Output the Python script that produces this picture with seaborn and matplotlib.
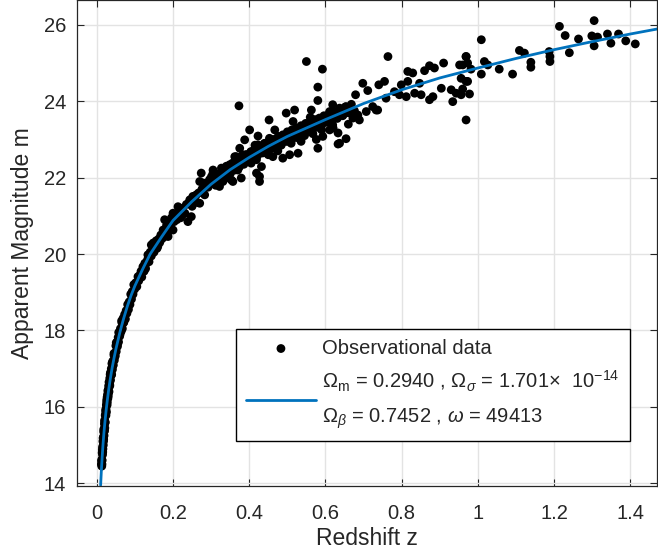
import numpy as np
import matplotlib
matplotlib.use("Agg")
import matplotlib.pyplot as plt
import seaborn as sns

# observational data (grouped by redshift range)
z_a = [0.012,0.013,0.013,0.014,0.014,0.015,0.015,0.016,0.016,0.017,0.017,0.018,0.018,0.019,0.019,0.020,0.020,0.021,0.021,0.022,
       0.022,0.023,0.024,0.024,0.025,0.025,0.026,0.027,0.027,0.028,0.029,0.030,0.030,0.031,0.032,0.033,0.034,0.034,0.035,0.036,
       0.037,0.038,0.039,0.040,0.041,0.042,0.043,0.045,0.046,0.047,0.048,0.050,0.051,0.053,0.054,0.056,0.057,0.059,0.060,0.062,
       0.064,0.066,0.067,0.069,0.071,0.073,0.075,0.077,0.079,0.081,0.083,0.085,0.087,0.089,0.091,0.093,0.095,0.097,0.099]
m_a = [14.50,14.62,14.45,14.80,14.60,14.95,14.75,15.10,14.90,15.20,15.00,15.35,15.15,15.40,15.25,15.55,15.38,15.62,15.45,15.78,
       15.60,15.80,15.95,15.78,16.05,15.88,16.12,16.25,16.05,16.32,16.22,16.45,16.28,16.55,16.40,16.62,16.75,16.55,16.85,16.70,
       16.90,17.00,16.85,17.12,16.98,17.20,17.10,17.35,17.22,17.40,17.32,17.60,17.45,17.70,17.58,17.82,17.70,17.95,17.85,18.05,
       17.98,18.20,18.05,18.32,18.22,18.42,18.30,18.52,18.45,18.68,18.55,18.75,18.68,18.95,18.82,19.02,18.95,19.20,19.08]

z_g = [0.0125,0.0135,0.0145,0.0155,0.0165,0.0175,0.0185,0.0195,0.0205,0.0215,0.0230,0.0245,0.0260,0.0275,0.0290,
       0.0305,0.0320,0.0340,0.0360,0.0380,0.0400,0.0425,0.0450,0.0480,0.0510,0.0540,0.0575,0.0610,0.0650,0.0700]
m_g = [14.58,14.50,14.88,14.82,15.18,15.10,15.42,15.36,15.65,15.58,15.90,15.85,16.18,16.12,16.42,
       16.36,16.65,16.58,16.90,16.83,17.15,17.08,17.40,17.35,17.68,17.62,17.95,17.90,18.25,18.20]

z_b = [0.102,0.105,0.108,0.110,0.113,0.116,0.118,0.121,0.124,0.126,0.128,0.130,0.133,0.134,0.137,0.140,0.143,0.143,0.146,0.148,
       0.150,0.153,0.156,0.158,0.160,0.163,0.165,0.168,0.171,0.174,0.176,0.178,0.180,0.183,0.185,0.187,0.190,0.193,0.196,0.200,
       0.200,0.203,0.207,0.210,0.213,0.216,0.220,0.224,0.228,0.231,0.235,0.239,0.242,0.244,0.248,0.250,0.252,0.255,0.257,0.261,
       0.264,0.267,0.270,0.270,0.274,0.276,0.279,0.279,0.283,0.288,0.292,0.296]
m_b = [19.25,19.15,19.41,19.30,19.45,19.55,19.40,19.67,19.55,19.76,19.62,19.76,19.85,19.98,19.80,20.05,20.24,19.95,20.10,20.29,
       20.05,20.20,20.35,20.15,20.20,20.40,20.30,20.50,20.40,20.63,20.45,20.90,20.60,20.75,20.55,20.46,20.80,20.70,20.95,20.63,
       21.07,20.85,21.00,20.90,21.24,21.10,20.95,21.20,21.05,21.07,21.30,20.85,21.35,21.42,20.98,21.25,21.51,21.40,21.51,21.55,
       21.35,21.60,21.33,21.90,22.12,21.70,21.68,21.86,21.55,21.86,21.75,21.95]

z_c = [0.301,0.305,0.305,0.310,0.315,0.322,0.327,0.331,0.335,0.340,0.345,0.349,0.353,0.357,0.362,0.366,0.370,0.373,0.375,0.379,
       0.379,0.383,0.388,0.392,0.396,0.401,0.405,0.410,0.415,0.419,0.419,0.423,0.423,0.427,0.427,0.432,0.436,0.440,0.445,0.450,
       0.452,0.453,0.458,0.462,0.467,0.470,0.475,0.480,0.484,0.488,0.492,0.497,0.500,0.506,0.506,0.510,0.515,0.519,0.524,0.528,
       0.532,0.536,0.540,0.545,0.550,0.553,0.558,0.560,0.563,0.567,0.572,0.576,0.580,0.580,0.580,0.585,0.590,0.592,0.593,0.593,
       0.597]
m_c = [22.03,22.20,22.12,21.85,22.05,21.77,22.25,21.90,22.10,22.30,22.00,22.34,21.94,21.90,22.55,22.55,22.20,23.88,22.77,21.99,
       22.38,22.60,22.99,22.60,22.45,23.25,22.38,22.70,22.85,22.47,22.12,23.09,22.86,22.03,21.90,22.29,22.65,22.90,22.77,22.60,
       23.51,23.03,22.85,22.55,23.25,22.95,22.70,23.03,22.85,22.51,23.10,23.69,22.95,23.08,22.60,22.90,23.47,23.77,23.05,22.64,
       23.17,22.95,23.30,23.10,25.04,23.40,23.21,23.58,23.77,23.15,23.35,23.00,22.77,24.37,24.02,23.45,23.25,24.84,23.08,23.43,
       23.60]

z_f = [0.305,0.312,0.318,0.325,0.332,0.338,0.344,0.351,0.356,0.362,0.368,0.374,0.380,0.386,0.392,0.398,0.404,0.410,0.416,0.422,
       0.428,0.434,0.440,0.446,0.452,0.458,0.464,0.470,0.476,0.482,0.488,0.494,0.500,0.506,0.512,0.518,0.524,0.530,0.536,0.542,
       0.548,0.554,0.560,0.566,0.572,0.578,0.584,0.590,0.596,0.603,0.610,0.617,0.624,0.631,0.638,0.645,0.652,0.660,0.668,0.676]
m_f = [21.95,21.80,22.10,21.95,22.20,22.02,22.28,22.12,22.38,22.20,22.45,22.28,22.52,22.35,22.60,22.42,22.68,22.50,22.75,22.58,
       22.82,22.65,22.88,22.70,22.95,22.76,23.00,22.82,23.08,22.88,23.12,22.95,23.20,23.00,23.25,23.06,23.30,23.12,23.36,23.18,
       23.42,23.22,23.46,23.28,23.52,23.32,23.56,23.38,23.62,23.45,23.68,23.50,23.72,23.55,23.80,23.62,23.85,23.70,23.92,23.75]

z_d = [0.764,0.910,0.952,0.969,0.873,0.886,0.860,0.816,0.829,0.755,0.740,0.698,0.711,0.679,0.799,0.816,0.847,0.781,0.794,0.812,
       0.834,0.851,0.873,0.882,0.904,0.930,0.943,0.934,0.956,0.969,0.969,0.759,0.724,0.737,0.707,0.685,0.668,0.654,0.637,0.619,
       0.611,0.628,0.646,0.602,0.619,0.672,0.689,0.633,0.654,0.611,0.637,0.633,0.733,0.620,0.605,0.660]
m_d = [25.17,25.00,24.95,25.17,24.93,24.87,24.80,24.78,24.74,24.52,24.43,24.47,24.28,24.17,24.43,24.52,24.47,24.25,24.17,24.12,
       24.21,24.17,24.04,24.12,24.34,24.30,24.21,23.99,24.17,24.52,23.51,24.08,23.86,23.77,23.73,23.64,23.77,23.86,23.82,23.91,
       23.73,23.64,23.64,23.51,23.38,23.56,23.51,23.17,23.02,23.25,22.90,22.88,23.77,23.30,23.60,23.40]

z_e = [1.214,1.305,1.229,1.264,1.299,1.314,1.305,1.340,1.349,1.369,1.388,1.413,1.240,1.109,1.122,1.139,1.139,1.187,1.189,1.189,
       1.091,1.056,1.009,1.017,1.026,1.009,0.969,0.973,0.960,0.973,0.978,0.960,0.982,0.956]
m_e = [25.96,26.11,25.72,25.63,25.71,25.68,25.45,25.76,25.52,25.76,25.58,25.50,25.27,25.33,25.26,25.02,24.89,25.30,25.17,25.04,
       24.71,24.84,25.61,25.04,24.95,24.71,25.17,25.00,24.95,24.52,24.19,24.32,24.84,24.60]

# fitted model curve
z_fit = [0.010,0.012,0.014,0.016,0.018,0.020,0.022,0.025,0.028,0.031,0.035,0.040,0.045,0.050,0.055,0.060,0.065,0.070,0.080,0.090,
         0.100,0.120,0.140,0.170,0.200,0.250,0.300,0.350,0.400,0.450,0.500,0.600,0.700,0.800,0.900,1.000,1.100,1.200,1.300,1.400,
         1.470]
m_fit = [13.95,14.35,14.68,14.98,15.24,15.47,15.68,15.96,16.21,16.44,16.71,17.01,17.27,17.51,17.72,17.93,18.12,18.30,18.63,18.92,
         19.17,19.60,20.00,20.45,20.88,21.38,21.83,22.21,22.53,22.82,23.08,23.52,23.94,24.30,24.61,24.87,25.12,25.35,25.56,25.76,
         25.89]

z_obs = np.concatenate([z_a, z_g, z_b, z_c, z_f, z_d, z_e])
m_obs = np.concatenate([m_a, m_g, m_b, m_c, m_f, m_d, m_e])

fit_label = ("\u03a9$_{\\mathrm{m}}$ = 0.2940 , \u03a9$_{\u03c3}$ = 1.701\u00d7  10$^{-14}$\n"
             "\u03a9$_{\u03b2}$ = 0.7452 , $\u03c9$ = 49413")

sns.set_style("whitegrid")
plt.rcParams["font.family"] = ["Liberation Sans", "DejaVu Sans"]
plt.rcParams["mathtext.fontset"] = "custom"
plt.rcParams["mathtext.rm"] = "Liberation Sans"
plt.rcParams["mathtext.it"] = "Liberation Sans:italic"

txt = "#262626"
fig = plt.figure(figsize=(6.58, 5.6), dpi=100)
ax = fig.add_axes([77/658, 74/560, 580/658, 486/560])

sns.scatterplot(x=z_obs, y=m_obs, color="black", s=40, edgecolor="none", linewidth=0,
                label="Observational data", ax=ax)
sns.lineplot(x=z_fit, y=m_fit, color="#0072BD", linewidth=2, label=fit_label, ax=ax)

ax.set_xlim(-0.052, 1.47)
ax.set_ylim(13.93, 26.65)
ax.set_xticks(np.arange(0, 1.41, 0.2))
ax.set_xticklabels(["0", "0.2", "0.4", "0.6", "0.8", "1", "1.2", "1.4"])
ax.set_yticks(np.arange(14, 27, 2))
ax.grid(True, color="#e3e3e3", linewidth=1)
for s in ax.spines.values():
    s.set_visible(True)
    s.set_color(txt)
    s.set_linewidth(0.9)
ax.tick_params(axis="both", direction="in", length=5, width=0.8, colors=txt,
               labelsize=14.5, top=True, right=True, left=True, bottom=True)
ax.tick_params(axis="x", pad=13)
ax.tick_params(axis="y", pad=8)
ax.set_xlabel("Redshift z", fontsize=16.5, color=txt, labelpad=3)
ax.set_ylabel("Apparent Magnitude m", fontsize=16.5, color=txt, labelpad=7)

leg = ax.legend(loc="lower right", bbox_to_anchor=(0.953, 0.093), borderaxespad=0,
                frameon=True, fancybox=False, edgecolor="black", framealpha=1,
                handlelength=3.5, handletextpad=0.3, fontsize=14.5, scatterpoints=1,
                labelspacing=0.55, borderpad=0.5)
leg.get_frame().set_linewidth(1)
leg.get_texts()[1].set_linespacing(1.75)

fig.savefig("out.png", dpi=100)
